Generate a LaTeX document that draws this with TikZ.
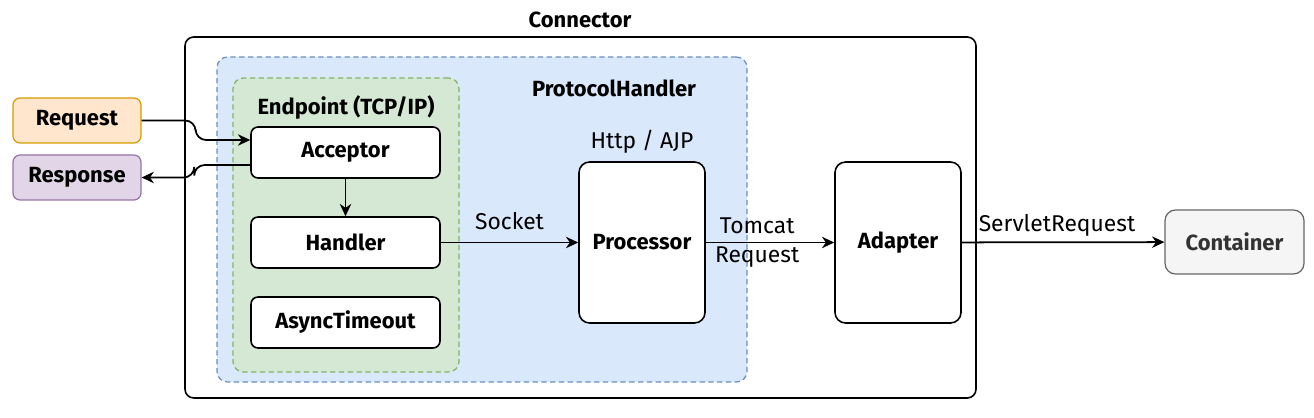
\documentclass[tikz,border=0pt]{standalone}
\usepackage{fontspec}
\setmainfont{Fira Sans}
\usetikzlibrary{arrows.meta, positioning}
\definecolor{pblue}{HTML}{DAE8FC}
\definecolor{pbluedraw}{HTML}{6C8EBF}
\definecolor{egreen}{HTML}{D5E8D4}
\definecolor{egreendraw}{HTML}{82B366}
\definecolor{reqfill}{HTML}{FFE6CC}
\definecolor{reqdraw}{HTML}{D79B00}
\definecolor{respfill}{HTML}{E1D5E7}
\definecolor{respdraw}{HTML}{9673A6}
\definecolor{contfill}{HTML}{F5F5F5}
\definecolor{contdraw}{HTML}{666666}
\definecolor{conttext}{HTML}{333333}

\begin{document}
\begin{tikzpicture}[x=0.02cm, y=-0.02cm,
  sz/.style 2 args={minimum width=#1*0.02cm, minimum height=#2*0.02cm, inner sep=0pt},
  box/.style={draw, line width=0.9pt, rounded corners=4pt, fill=white,
    font=\fontsize{12.5}{15}\selectfont\bfseries, align=center},
  group/.style={draw, dash pattern=on 3pt off 2pt, line width=0.7pt, rounded corners=6pt},
  title/.style={font=\fontsize{12.5}{15}\selectfont\bfseries, inner sep=1pt},
  lbl/.style={font=\fontsize{13}{15}\selectfont, align=center, inner sep=1pt},
  arr/.style={-{Stealth[length=7pt, width=6.5pt]}, line width=1pt}
]
\useasboundingbox (0,0) rectangle (1314,418);
% outer containers
\node[draw, line width=0.9pt, rounded corners=5pt, sz={791}{361}] (conn) at (580.5,217.5) {};
\node[title] (connlbl) at (580,20) {Connector};
\node[group, fill=pblue, draw=pbluedraw, sz={530}{325}] (proto) at (482,219.5) {};
\node[title] (protolbl) at (614,88) {ProtocolHandler};
\node[group, fill=egreen, draw=egreendraw, sz={226}{294}] (endp) at (346,225) {};
\node[title] (endplbl) at (346,108) {Endpoint (TCP/IP)};
% endpoint parts
\node[box, sz={189}{51}] (acc) at (345.5,152.5) {Acceptor};
\node[box, sz={189}{51}] (hand) at (345.5,242.5) {Handler};
\node[box, sz={189}{51}] (async) at (345.5,322.5) {AsyncTimeout};
% processing chain
\node[box, rounded corners=6pt, sz={126}{161}] (proc) at (642,242.5) {Processor};
\node[lbl, above=3pt of proc] (proclbl) {Http / AJP};
\node[box, rounded corners=6pt, sz={126}{161}] (adap) at (898,242.5) {Adapter};
\node[box, fill=contfill, draw=contdraw, text=conttext, line width=0.7pt,
  rounded corners=6pt, sz={139}{64}] (cont) at (1234.5,242) {Container};
% client side
\node[box, fill=reqfill, draw=reqdraw, line width=0.7pt, sz={128}{45}] (req) at (77,120.5) {Request};
\node[box, fill=respfill, draw=respdraw, line width=0.7pt, sz={128}{45}] (resp) at (77,177.5) {Response};

\draw[arr, rounded corners=6pt] (req.east) -- ++(54,0) |- ([yshift=0.25cm]acc.west);
\draw[arr, rounded corners=6pt] ([yshift=-0.25cm]acc.west) -- ++(-56,0) |- (resp.east);
\draw[arr] (acc) -- (hand);
\draw[arr] (hand) -- node[lbl, above=6pt] (socklbl) {Socket} (proc);
\draw[arr] (proc) -- node[lbl, pos=0.4] (tomlbl) {Tomcat\\[2pt]Request} (adap);
\draw[arr] (adap) -- node[lbl, above=2pt, pos=0.47] (servlbl) {ServletRequest} (cont);
\end{tikzpicture}
\end{document}
